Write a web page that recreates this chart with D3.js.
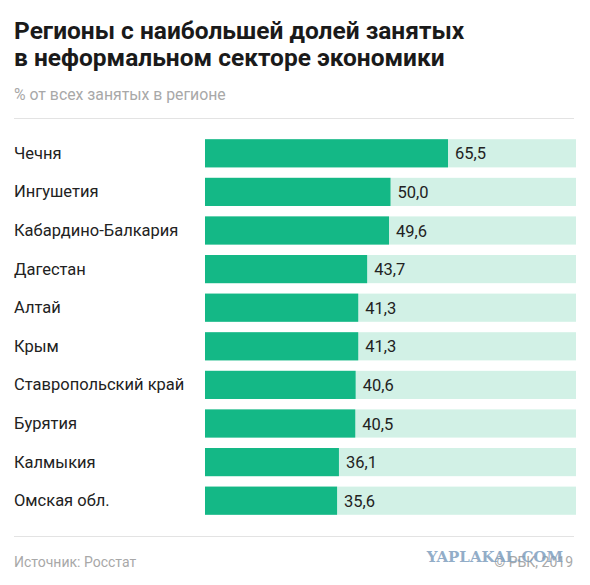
<!DOCTYPE html><html><head><meta charset="utf-8"><script src="https://cdn.jsdelivr.net/npm/d3@7"></script>
<style>body{margin:0;background:#fff}</style></head><body><svg id="c" width="590" height="585"></svg>
<script>
const regions=["Чечня","Ингушетия","Кабардино-Балкария","Дагестан","Алтай","Крым","Ставропольский край","Бурятия","Калмыкия","Омская обл."];
const values=[65.5,50.0,49.6,43.7,41.3,41.3,40.6,40.5,36.1,35.6];
const svg=d3.select("#c");
const F="Roboto, 'Open Sans', sans-serif";
svg.append("rect").attr("width",590).attr("height",585).attr("fill","#fff");
[["Регионы с наибольшей долей занятых",39],["в неформальном секторе экономики",66]].forEach(([t,y])=>
 svg.append("text").attr("x",14).attr("y",y).attr("font-family",F).attr("font-weight",700).attr("font-size",24.5).attr("fill","#1a1a1a").text(t));
svg.append("text").attr("x",14).attr("y",100).attr("font-family",F).attr("font-size",15.8).attr("fill","#a8a8a8").text("% от всех занятых в регионе");
svg.append("line").attr("x1",14).attr("x2",574).attr("y1",118.5).attr("y2",118.5).attr("stroke","#e3e3e3");
svg.append("line").attr("x1",14).attr("x2",574).attr("y1",536.5).attr("y2",536.5).attr("stroke","#e3e3e3");
const x=d3.scaleLinear().domain([0,100]).range([205,576]);
const y=d3.scaleBand().domain(regions).range([134,520]).paddingInner(0.27).paddingOuter(0.135);
const g=svg.append("g").selectAll("g").data(regions).join("g");
g.append("rect").attr("x",x(0)).attr("y",d=>y(d)).attr("width",x(100)-x(0)).attr("height",y.bandwidth()).attr("fill","#d2f1e6");
g.append("rect").attr("x",x(0)).attr("y",d=>y(d)).attr("width",(d,i)=>x(values[i])-x(0)).attr("height",y.bandwidth()).attr("fill","#14b886");
g.append("text").attr("x",14).attr("y",d=>y(d)+y.bandwidth()/2+5.5).attr("font-family",F).attr("font-size",16.5).attr("fill","#222").text(d=>d);
g.append("text").attr("x",(d,i)=>x(values[i])+7).attr("y",d=>y(d)+y.bandwidth()/2+6).attr("font-family",F).attr("font-size",16.5).attr("fill","#222").text((d,i)=>values[i].toFixed(1).replace(".",","));
svg.append("text").attr("x",14).attr("y",567).attr("font-family",F).attr("font-size",14).attr("fill","#a8a8a8").text("Источник: Росстат");
svg.append("text").attr("x",573).attr("y",567).attr("text-anchor","end").attr("font-family",F).attr("font-size",14).attr("fill","#a8a8a8").text("© РБК, 2019");
svg.append("text").attr("x",563).attr("y",562).attr("text-anchor","end").attr("font-family","'DejaVu Serif', serif").attr("font-weight",700).attr("font-size",15).attr("fill","#7f9fbf").attr("opacity",0.85).text("YAPLAKAL.COM");
</script></body></html>
